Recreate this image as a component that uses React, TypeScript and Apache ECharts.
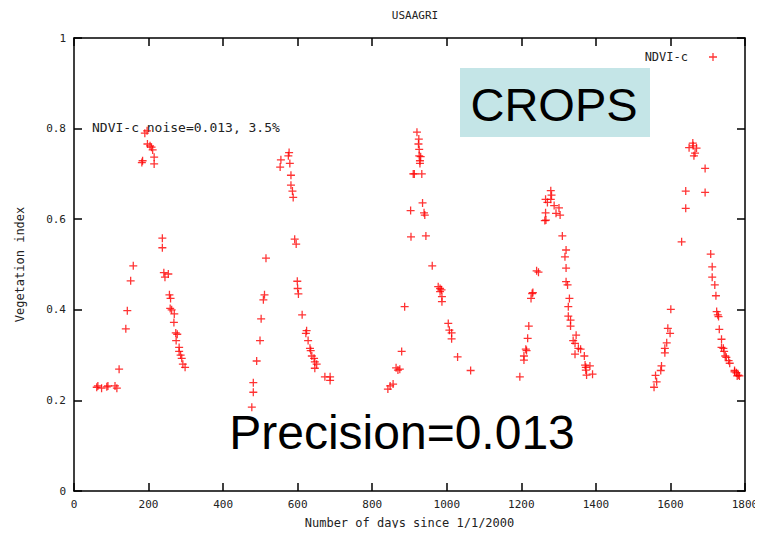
import React, { useEffect, useRef } from "react";
import * as echarts from "echarts";

const titleText = "USAAGRI";
const seriesName = "NDVI-c";
const xTicks = { min: 0, max: 1800, interval: 200 };
const yTicks = { min: 0, max: 1, interval: 0.2 };

const season2000: [number, number][] = [
  [61, 0.229], [64, 0.232], [74, 0.227], [88, 0.23], [91, 0.232], [110, 0.232], [115, 0.227],
  [121, 0.269], [139, 0.358], [143, 0.398], [152, 0.464], [159, 0.497], [182, 0.725], [184, 0.729],
  [190, 0.79], [196, 0.795], [197, 0.766], [204, 0.762], [208, 0.759], [211, 0.753], [215, 0.737],
  [215, 0.722], [237, 0.558], [237, 0.537], [241, 0.482], [253, 0.479], [244, 0.472], [256, 0.433],
  [259, 0.425], [258, 0.403], [262, 0.4], [269, 0.391], [268, 0.372], [273, 0.349], [277, 0.346],
  [274, 0.332], [282, 0.317], [282, 0.308], [286, 0.3], [289, 0.293], [292, 0.28], [298, 0.273],
];

const season2001: [number, number][] = [
  [477, 0.185], [481, 0.218], [481, 0.239], [490, 0.287], [499, 0.332], [502, 0.38], [508, 0.422],
  [511, 0.433], [515, 0.514], [553, 0.715], [555, 0.731], [575, 0.74], [577, 0.747], [579, 0.723],
  [582, 0.697], [582, 0.675], [586, 0.662], [588, 0.648], [592, 0.556], [596, 0.545], [599, 0.463],
  [600, 0.447], [602, 0.435], [612, 0.389], [624, 0.354], [622, 0.348], [628, 0.332], [633, 0.315],
  [635, 0.31], [638, 0.298], [644, 0.293], [646, 0.285], [651, 0.28], [646, 0.271], [673, 0.252],
  [687, 0.252], [687, 0.244],
];

const season2002: [number, number][] = [
  [842, 0.225], [848, 0.232], [856, 0.236], [864, 0.272], [869, 0.267], [874, 0.269], [879, 0.308],
  [887, 0.407], [904, 0.561], [903, 0.619], [910, 0.7], [913, 0.7], [933, 0.7], [928, 0.723],
  [928, 0.729], [926, 0.74], [930, 0.738], [926, 0.754], [924, 0.766], [920, 0.792], [925, 0.777],
  [935, 0.636], [939, 0.614], [941, 0.609], [944, 0.563], [961, 0.497], [977, 0.451], [982, 0.447],
  [986, 0.444], [982, 0.44], [987, 0.429], [987, 0.418], [1004, 0.37], [1007, 0.355], [1013, 0.349],
  [1013, 0.336], [1029, 0.296], [1064, 0.266],
];

const season2003: [number, number][] = [
  [1196, 0.252], [1207, 0.289], [1207, 0.298], [1212, 0.313], [1214, 0.31], [1217, 0.337],
  [1220, 0.364], [1226, 0.425], [1229, 0.436], [1231, 0.438], [1241, 0.486], [1246, 0.483],
  [1263, 0.597], [1266, 0.598], [1265, 0.614], [1265, 0.644], [1270, 0.637], [1279, 0.663],
  [1281, 0.653], [1279, 0.644], [1288, 0.63], [1293, 0.613], [1301, 0.625], [1304, 0.609],
  [1310, 0.563], [1320, 0.532], [1317, 0.517], [1320, 0.492], [1320, 0.462], [1324, 0.455],
  [1329, 0.425], [1326, 0.407], [1326, 0.386], [1332, 0.377], [1332, 0.364], [1347, 0.344],
  [1339, 0.332], [1344, 0.326], [1353, 0.315], [1359, 0.313], [1344, 0.302], [1369, 0.298],
  [1371, 0.278], [1373, 0.273], [1373, 0.267], [1384, 0.276], [1375, 0.256], [1391, 0.258],
];

const season2004: [number, number][] = [
  [1556, 0.229], [1563, 0.241], [1560, 0.255], [1574, 0.266], [1576, 0.276], [1585, 0.305],
  [1585, 0.315], [1590, 0.327], [1599, 0.348], [1593, 0.359], [1601, 0.401], [1630, 0.55],
  [1641, 0.624], [1641, 0.662], [1650, 0.758], [1660, 0.768], [1661, 0.762], [1670, 0.757],
  [1666, 0.746], [1663, 0.74], [1693, 0.712], [1693, 0.659], [1708, 0.523], [1712, 0.495],
  [1712, 0.472], [1719, 0.455], [1722, 0.431], [1724, 0.396], [1727, 0.389], [1729, 0.385],
  [1731, 0.357], [1737, 0.335], [1737, 0.317], [1742, 0.315], [1744, 0.308], [1747, 0.298],
  [1750, 0.295], [1756, 0.288], [1759, 0.282], [1772, 0.266], [1777, 0.261], [1782, 0.256],
  [1772, 0.263], [1779, 0.254], [1785, 0.254],
];

const allPoints = [...season2000, ...season2001, ...season2002, ...season2003, ...season2004];

const CROSS = "path://M0,4.2H4.2V0H5.8V4.2H10V5.8H5.8V10H4.2V5.8H0Z";
const FONT = "DejaVu Sans Mono";

export default function App() {
  const ref = useRef<HTMLDivElement>(null);
  useEffect(() => {
    if (!ref.current) return;
    const chart = echarts.init(ref.current, undefined, { renderer: "svg" });
    const axisCommon = {
      type: "value" as const,
      axisLine: { show: true, onZero: false, lineStyle: { color: "#000", width: 1.5 } },
      axisTick: { show: true, inside: true, length: 8, lineStyle: { color: "#000", width: 1.5 } },
      splitLine: { show: false },
    };
    chart.setOption({
      animation: false,
      backgroundColor: "#fff",
      title: {
        text: titleText,
        left: 410,
        top: 5,
        textAlign: "center",
        textStyle: { fontFamily: FONT, fontSize: 11, fontWeight: "normal", color: "#222" },
      },
      legend: {
        data: [{ name: seriesName, icon: CROSS }],
        right: 41,
        top: 46,
        align: "right",
        itemWidth: 8,
        itemHeight: 8,
        itemGap: 4,
        textStyle: { fontFamily: FONT, fontSize: 12, color: "#222", padding: [0, 16, 0, 0] },
      },
      grid: { left: 74, right: 18, top: 38, bottom: 45, containLabel: false },
      xAxis: [
        {
          ...axisCommon,
          ...xTicks,
          position: "bottom",
          name: "Number of days since 1/1/2000",
          nameLocation: "middle",
          nameGap: 26,
          nameTextStyle: { fontFamily: FONT, fontSize: 12, color: "#222" },
          axisLabel: {
            fontFamily: FONT,
            fontSize: 11,
            color: "#222",
            margin: 8,
            formatter: (v: number) => String(v),
          },
        },
        {
          ...axisCommon,
          ...xTicks,
          position: "top",
          axisLabel: { show: false },
        },
      ],
      yAxis: [
        {
          ...axisCommon,
          ...yTicks,
          position: "left",
          name: "Vegetation index",
          nameLocation: "middle",
          nameGap: 48,
          nameTextStyle: { fontFamily: FONT, fontSize: 12, color: "#222" },
          axisLabel: { fontFamily: FONT, fontSize: 11, color: "#222", margin: 8 },
        },
        {
          ...axisCommon,
          ...yTicks,
          position: "right",
          axisLabel: { show: false },
        },
      ],
      graphic: [
        {
          type: "text",
          left: 92,
          top: 121,
          style: { text: "NDVI-c noise=0.013, 3.5%", fontFamily: FONT, fontSize: 13, fill: "#222" },
        },
        {
          type: "rect",
          shape: { x: 460, y: 68, width: 190, height: 69 },
          style: { fill: "#c4e5e7" },
        },
        {
          type: "text",
          x: 554,
          y: 104,
          style: {
            text: "CROPS",
            fontFamily: "Liberation Sans",
            fontSize: 47,
            fill: "#000",
            align: "center",
            verticalAlign: "middle",
          },
        },
        {
          type: "text",
          x: 402,
          y: 432,
          style: {
            text: "Precision=0.013",
            fontFamily: "Liberation Sans",
            fontSize: 48,
            fill: "#000",
            align: "center",
            verticalAlign: "middle",
          },
        },
      ],
      series: [
        {
          name: seriesName,
          type: "scatter",
          symbol: CROSS,
          symbolSize: 8,
          itemStyle: { color: "#ff0000" },
          data: allPoints,
          z: 5,
        },
      ],
    });
    return () => chart.dispose();
  }, []);
  return <div ref={ref} style={{ width: 763, height: 536, margin: -8 }} />;
}
